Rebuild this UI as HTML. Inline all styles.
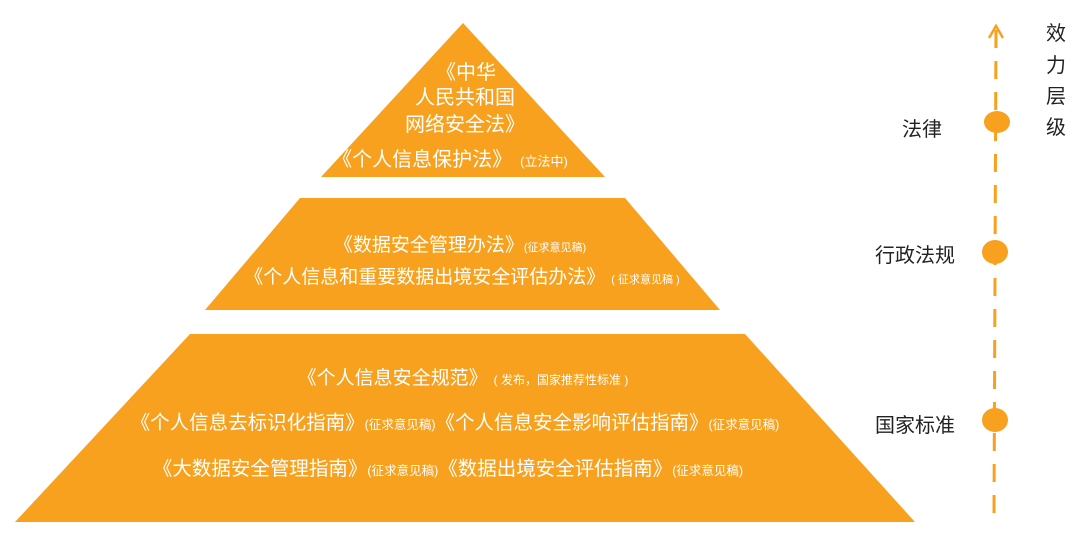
<!DOCTYPE html>
<html><head><meta charset="utf-8"><style>
body{margin:0;background:#fff;}
svg text{font-family:"Liberation Sans","Noto Sans CJK SC",sans-serif;}
</style></head><body>
<svg width="1080" height="541" xmlns="http://www.w3.org/2000/svg">
<polygon points="463,23 605,177 321,177" fill="#f7a11e"/>
<polygon points="300,198 625,198 720,310 205,310" fill="#f7a11e"/>
<polygon points="190,334 745,334 915,522 15,522" fill="#f7a11e"/>
<g fill="#fff" text-anchor="middle" font-size="20">
<text x="466" y="79">《中华</text>
<text x="465" y="104">人民共和国</text>
<text x="465" y="131">网络安全法》</text>
<text x="450" y="166">《个人信息保护法》<tspan font-size="13" dx="8">(立法中)</tspan></text>
<text x="460" y="251" font-size="19">《数据安全管理办法》<tspan font-size="11">(征求意见稿)</tspan></text>
<text x="462" y="283" font-size="19">《个人信息和重要数据出境安全评估办法》<tspan font-size="11" dx="6">( 征求意见稿 )</tspan></text>
<text x="463" y="384" font-size="19">《个人信息安全规范》<tspan font-size="12" dx="6">( 发布，国家推荐性标准 )</tspan></text>
<text x="455" y="429" font-size="19.5">《个人信息去标识化指南》<tspan font-size="12.5">(征求意见稿)</tspan>《个人信息安全影响评估指南》<tspan font-size="12.5">(征求意见稿)</tspan></text>
<text x="448" y="475" font-size="19.5">《大数据安全管理指南》<tspan font-size="12.5">(征求意见稿)</tspan>《数据出境安全评估指南》<tspan font-size="12.5">(征求意见稿)</tspan></text>
</g>
<line x1="996" y1="30" x2="994" y2="515" stroke="#f7a11e" stroke-width="3" stroke-dasharray="18,13"/>
<polyline points="989,38 996,26 1003,38" fill="none" stroke="#f7a11e" stroke-width="2.5"/>
<ellipse cx="997" cy="122" rx="13" ry="11" fill="#f7a11e"/>
<ellipse cx="995" cy="252" rx="13" ry="12" fill="#f7a11e"/>
<ellipse cx="995" cy="420" rx="13" ry="12" fill="#f7a11e"/>
<g fill="#222" font-size="20" text-anchor="middle">
<text x="922" y="136">法律</text>
<text x="915" y="262">行政法规</text>
<text x="915" y="432">国家标准</text>
<text x="1056" y="40">效</text>
<text x="1056" y="72">力</text>
<text x="1056" y="103">层</text>
<text x="1056" y="134">级</text>
</g>
</svg>
</body></html>
